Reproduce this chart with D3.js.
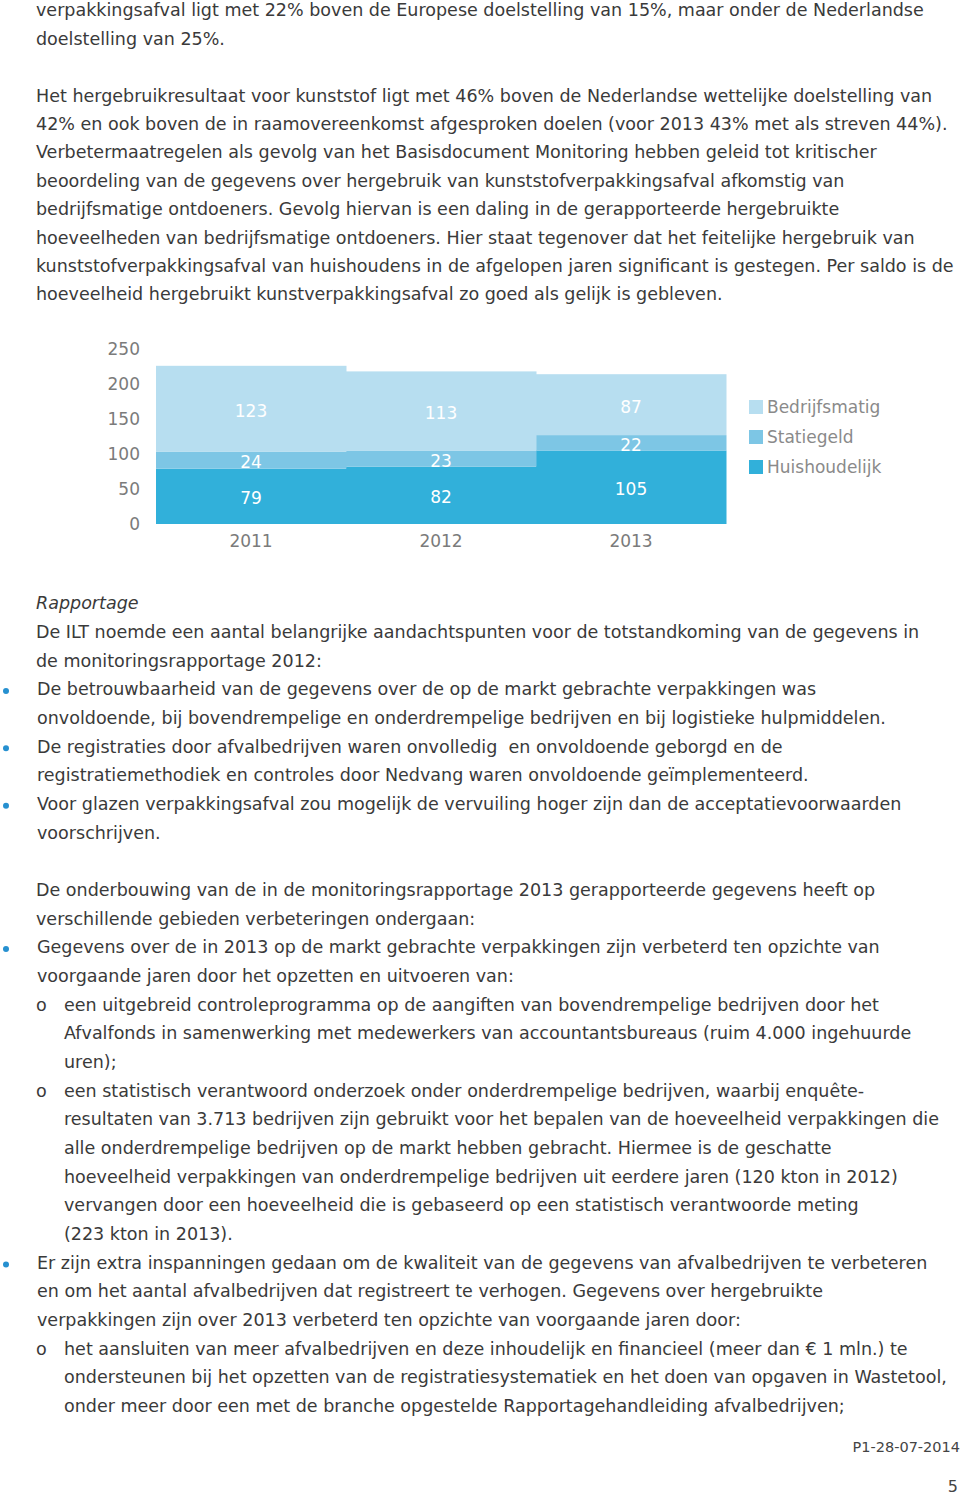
<!DOCTYPE html>
<html><head><meta charset="utf-8">
<script src="https://cdn.jsdelivr.net/npm/d3@7/dist/d3.min.js"></script>
<style>
html,body{margin:0;padding:0;background:#fff;}
svg{display:block;}
</style></head>
<body>
<svg id="page" width="960" height="1496"></svg>
<script>
// ---------- DATA ----------
const years = ["2011", "2012", "2013"];
const huishoudelijk = [79, 82, 105];
const statiegeld = [24, 23, 22];
const bedrijfsmatig = [123, 113, 87];
const seriesNames = ["Huishoudelijk", "Statiegeld", "Bedrijfsmatig"];
const legendOrder = ["Bedrijfsmatig", "Statiegeld", "Huishoudelijk"];
const yTicks = [0, 50, 100, 150, 200, 250];

// ---------- TEXT ----------
const block1 = [
  {t:"verpakkingsafval ligt met 22% boven de Europese doelstelling van 15%, maar onder de Nederlandse"},
  {t:"doelstelling van 25%."},
  {t:""},
  {t:"Het hergebruikresultaat voor kunststof ligt met 46% boven de Nederlandse wettelijke doelstelling van"},
  {t:"42% en ook boven de in raamovereenkomst afgesproken doelen (voor 2013 43% met als streven 44%)."},
  {t:"Verbetermaatregelen als gevolg van het Basisdocument Monitoring hebben geleid tot kritischer"},
  {t:"beoordeling van de gegevens over hergebruik van kunststofverpakkingsafval afkomstig van"},
  {t:"bedrijfsmatige ontdoeners. Gevolg hiervan is een daling in de gerapporteerde hergebruikte"},
  {t:"hoeveelheden van bedrijfsmatige ontdoeners. Hier staat tegenover dat het feitelijke hergebruik van"},
  {t:"kunststofverpakkingsafval van huishoudens in de afgelopen jaren significant is gestegen. Per saldo is de"},
  {t:"hoeveelheid hergebruikt kunstverpakkingsafval zo goed als gelijk is gebleven."}
];
const block2 = [
  {t:"Rapportage", italic:true},
  {t:"De ILT noemde een aantal belangrijke aandachtspunten voor de totstandkoming van de gegevens in"},
  {t:"de monitoringsrapportage 2012:"},
  {t:"De betrouwbaarheid van de gegevens over de op de markt gebrachte verpakkingen was", lvl:1, mark:"bullet"},
  {t:"onvoldoende, bij bovendrempelige en onderdrempelige bedrijven en bij logistieke hulpmiddelen.", lvl:1},
  {t:"De registraties door afvalbedrijven waren onvolledig\u00a0 en onvoldoende geborgd en de", lvl:1, mark:"bullet"},
  {t:"registratiemethodiek en controles door Nedvang waren onvoldoende geïmplementeerd.", lvl:1},
  {t:"Voor glazen verpakkingsafval zou mogelijk de vervuiling hoger zijn dan de acceptatievoorwaarden", lvl:1, mark:"bullet"},
  {t:"voorschrijven.", lvl:1},
  {t:""},
  {t:"De onderbouwing van de in de monitoringsrapportage 2013 gerapporteerde gegevens heeft op"},
  {t:"verschillende gebieden verbeteringen ondergaan:"},
  {t:"Gegevens over de in 2013 op de markt gebrachte verpakkingen zijn verbeterd ten opzichte van", lvl:1, mark:"bullet"},
  {t:"voorgaande jaren door het opzetten en uitvoeren van:", lvl:1},
  {t:"een uitgebreid controleprogramma op de aangiften van bovendrempelige bedrijven door het", lvl:2, mark:"o"},
  {t:"Afvalfonds in samenwerking met medewerkers van accountantsbureaus (ruim 4.000 ingehuurde", lvl:2},
  {t:"uren);", lvl:2},
  {t:"een statistisch verantwoord onderzoek onder onderdrempelige bedrijven, waarbij enquête-", lvl:2, mark:"o"},
  {t:"resultaten van 3.713 bedrijven zijn gebruikt voor het bepalen van de hoeveelheid verpakkingen die", lvl:2},
  {t:"alle onderdrempelige bedrijven op de markt hebben gebracht. Hiermee is de geschatte", lvl:2},
  {t:"hoeveelheid verpakkingen van onderdrempelige bedrijven uit eerdere jaren (120 kton in 2012)", lvl:2},
  {t:"vervangen door een hoeveelheid die is gebaseerd op een statistisch verantwoorde meting", lvl:2},
  {t:"(223 kton in 2013).", lvl:2},
  {t:"Er zijn extra inspanningen gedaan om de kwaliteit van de gegevens van afvalbedrijven te verbeteren", lvl:1, mark:"bullet"},
  {t:"en om het aantal afvalbedrijven dat registreert te verhogen. Gegevens over hergebruikte", lvl:1},
  {t:"verpakkingen zijn over 2013 verbeterd ten opzichte van voorgaande jaren door:", lvl:1},
  {t:"het aansluiten van meer afvalbedrijven en deze inhoudelijk en financieel (meer dan € 1 mln.) te", lvl:2, mark:"o"},
  {t:"ondersteunen bij het opzetten van de registratiesystematiek en het doen van opgaven in Wastetool,", lvl:2},
  {t:"onder meer door een met de branche opgestelde Rapportagehandleiding afvalbedrijven;", lvl:2}
];
const footerCode = "P1-28-07-2014";
const pageNumber = "5";

// ---------- LAYOUT ----------
const svg = d3.select("#page");
const FONT = "'DejaVu Sans', sans-serif";
const textColor = "#3a3a3a";

// calibrate body font size so the first line spans the reference width
const probe = svg.append("text").attr("font-family", FONT).attr("font-size", 16).text(block1[0].t);
const natural = probe.node().getComputedTextLength();
probe.remove();
const bodySize = 16 * 888 / natural;

const xIndent = {0: 36, 1: 37, 2: 64};

function drawBlock(lines, y0, lineH) {
  const g = svg.append("g");
  lines.forEach((ln, i) => {
    const cy = y0 + i * lineH;
    if (ln.t) {
      g.append("text")
        .attr("x", xIndent[ln.lvl || 0])
        .attr("y", cy).attr("dy", "0.36em")
        .attr("font-family", FONT).attr("font-size", bodySize)
        .attr("font-style", ln.italic ? "italic" : null)
        .attr("fill", textColor)
        .text(ln.t);
    }
    if (ln.mark === "bullet") {
      g.append("circle").attr("cx", 6).attr("cy", cy + 2).attr("r", 3).attr("fill", "#2690d0");
    } else if (ln.mark === "o") {
      g.append("text").attr("x", 36).attr("y", cy).attr("dy", "0.36em")
        .attr("font-family", FONT).attr("font-size", bodySize).attr("fill", textColor).text("o");
    }
  });
}
drawBlock(block1, 10, 28.4);
drawBlock(block2, 603, 28.67);

// ---------- CHART ----------
const colors = {Huishoudelijk: "#31b0da", Statiegeld: "#7dc6e5", Bedrijfsmatig: "#b7def0"};
const tickColor = "#7b7b7b";
const chartFont = 17;

const x = d3.scaleBand().domain(years).range([156, 726]).padding(0);
const y = d3.scaleLinear().domain([0, 250]).range([524, 349]);

const table = years.map((yr, i) => ({
  year: yr,
  Huishoudelijk: huishoudelijk[i],
  Statiegeld: statiegeld[i],
  Bedrijfsmatig: bedrijfsmatig[i]
}));
const stacked = d3.stack().keys(seriesNames)(table);

const chart = svg.append("g");
stacked.forEach(layer => {
  const lg = chart.append("g");
  lg.selectAll("rect").data(layer).join("rect")
    .attr("x", d => x(d.data.year))
    .attr("width", x.bandwidth() + 0.5)
    .attr("y", d => y(d[1]))
    .attr("height", d => y(d[0]) - y(d[1]))
    .attr("fill", colors[layer.key]);
});
stacked.forEach(layer => {
  chart.append("g").selectAll("text").data(layer).join("text")
    .attr("x", d => x(d.data.year) + x.bandwidth() / 2)
    .attr("y", d => (y(d[0]) + y(d[1])) / 2 + 2)
    .attr("dy", "0.36em")
    .attr("text-anchor", "middle")
    .attr("font-family", FONT).attr("font-size", chartFont)
    .attr("fill", "#ffffff")
    .text(d => d.data[layer.key]);
});

const yAxis = chart.append("g").attr("transform", "translate(156,0)")
  .call(d3.axisLeft(y).tickValues(yTicks).tickSize(0).tickPadding(16));
yAxis.select(".domain").remove();
yAxis.selectAll("text").attr("font-family", FONT).attr("font-size", chartFont).attr("fill", tickColor);

const xAxis = chart.append("g").attr("transform", "translate(0,524)")
  .call(d3.axisBottom(x).tickSize(0).tickPadding(11));
xAxis.select(".domain").remove();
xAxis.selectAll("text").attr("font-family", FONT).attr("font-size", chartFont).attr("fill", tickColor);

const legend = chart.append("g");
legendOrder.forEach((name, i) => {
  const cy = 407 + i * 30;
  legend.append("rect").attr("x", 749).attr("y", cy - 7).attr("width", 14).attr("height", 14).attr("fill", colors[name]);
  legend.append("text").attr("x", 767).attr("y", cy).attr("dy", "0.36em")
    .attr("font-family", FONT).attr("font-size", chartFont).attr("fill", "#8a8a8a").text(name);
});

// ---------- FOOTER ----------
svg.append("text").attr("x", 960).attr("y", 1447).attr("dy", "0.36em").attr("text-anchor", "end")
  .attr("font-family", FONT).attr("font-size", 14.5).attr("fill", "#444").text(footerCode);
svg.append("text").attr("x", 958).attr("y", 1486).attr("dy", "0.36em").attr("text-anchor", "end")
  .attr("font-family", FONT).attr("font-size", 16).attr("fill", "#444").text(pageNumber);
</script>
</body></html>
